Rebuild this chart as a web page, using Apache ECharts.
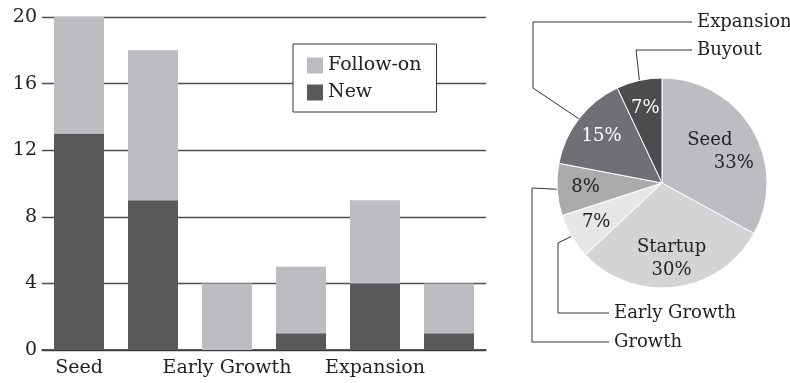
<!DOCTYPE html>
<html>
<head>
<meta charset="utf-8">
<script src="https://cdn.jsdelivr.net/npm/echarts@6/dist/echarts.min.js"></script>
<style>
  html, body { margin: 0; padding: 0; background: #fff; }
  #chart { width: 790px; height: 383px; }
</style>
</head>
<body>
<div id="chart"></div>
<script>
// Data
const stages = ['Seed', 'Startup', 'Early Growth', 'Growth', 'Expansion', 'Buyout'];
const newDeals = [13, 9, 0, 1, 4, 1];
const followOnDeals = [7, 9, 4, 4, 5, 3];
const pieShares = [33, 30, 7, 8, 15, 7];
const yTicks = [0, 4, 8, 12, 16, 20];

// Styling
const FONT = 'DejaVu Serif';
const TEXT = '#222';
const BAR_DARK = '#58595b';
const BAR_LIGHT = '#bcbdc0';
const PIE_COLORS = ['#bcbdc0', '#d4d4d6', '#e7e7e8', '#a9aaac', '#6f7073', '#4b4c4e'];
const PIE_TEXT = ['#222', '#222', '#222', '#222', '#fff', '#fff'];
const PIE_CENTER = [662, 183];
const PIE_R = 105;

// Where the outside pie labels sit and how their leader lines bend
const LEADERS = {
  'Expansion':    { at: [697, 22],  bends: [[533, 88], [533, 22], [692, 22]] },
  'Buyout':       { at: [697, 50],  bends: [[636, 50], [692, 50]] },
  'Early Growth': { at: [614, 313], bends: [[558, 243], [558, 313], [609, 313]] },
  'Growth':       { at: [614, 342], bends: [[532, 188], [532, 342], [609, 342]] }
};

// point on the slice edge at its mid angle (clockwise from 12 o'clock)
function sliceAnchor(i) {
  const total = pieShares.reduce((a, b) => a + b, 0);
  let before = 0;
  for (let k = 0; k < i; k++) before += pieShares[k];
  const a = (before + pieShares[i] / 2) / total * Math.PI * 2;
  const r = PIE_R * 0.97;
  return [PIE_CENTER[0] + Math.sin(a) * r, PIE_CENTER[1] - Math.cos(a) * r];
}

// inside label text: the two big slices also carry their name
function insideLabel(i) {
  if (i === 0) {
    return {
      formatter: '{l|{b}}\n{r|{c}%}',
      offset: [-6, 8],
      rich: { l: { padding: [0, 24, 0, 0] }, r: { padding: [0, 0, 0, 24] } }
    };
  }
  if (i === 1) return { formatter: '{b}\n{c}%' };
  return { formatter: '{c}%' };
}

const chart = echarts.init(document.getElementById('chart'));

const option = {
  animation: false,
  textStyle: { fontFamily: FONT, color: TEXT },

  grid: { left: 42, right: 304, top: 17, bottom: 33 },

  legend: {
    data: ['Follow-on', 'New'],
    orient: 'vertical',
    left: 293,
    top: 44,
    icon: 'rect',
    itemWidth: 16,
    itemHeight: 16,
    itemGap: 8,
    padding: [12, 15, 10, 14],
    borderColor: '#333',
    borderWidth: 1,
    backgroundColor: '#fff',
    textStyle: { fontFamily: FONT, fontSize: 19, color: TEXT }
  },

  xAxis: {
    type: 'category',
    data: stages,
    axisTick: { show: false },
    axisLine: { lineStyle: { color: '#333', width: 1.5 } },
    axisLabel: { interval: 1, fontSize: 19, color: TEXT, margin: 9, fontFamily: FONT }
  },

  yAxis: {
    type: 'value',
    min: yTicks[0],
    max: yTicks[yTicks.length - 1],
    interval: yTicks[1] - yTicks[0],
    axisLine: { show: false },
    axisTick: { show: false },
    axisLabel: { fontSize: 19, color: TEXT, margin: 5, fontFamily: FONT },
    splitLine: { lineStyle: { color: '#4f4f4f', width: 1.3 } }
  },

  series: [
    {
      name: 'New',
      type: 'bar',
      stack: 'deals',
      data: newDeals,
      barWidth: 50,
      itemStyle: { color: BAR_DARK },
      emphasis: { disabled: true }
    },
    {
      name: 'Follow-on',
      type: 'bar',
      stack: 'deals',
      data: followOnDeals,
      barWidth: 50,
      itemStyle: { color: BAR_LIGHT },
      emphasis: { disabled: true }
    },
    // coloured pie carrying the outside labels with bent leader lines
    {
      name: 'Share',
      type: 'pie',
      center: PIE_CENTER,
      radius: PIE_R,
      startAngle: 90,
      clockwise: true,
      avoidLabelOverlap: false,
      silent: true,
      data: stages.map((s, i) => ({
        name: s,
        value: pieShares[i],
        itemStyle: { color: PIE_COLORS[i] },
        label: { show: !!LEADERS[s] },
        labelLine: { show: !!LEADERS[s] }
      })),
      itemStyle: { borderColor: '#fff', borderWidth: 1 },
      label: {
        position: 'outside',
        formatter: '{b}',
        fontFamily: FONT,
        fontSize: 18,
        color: TEXT
      },
      labelLine: { lineStyle: { color: '#333', width: 1 } },
      labelLayout: function (p) {
        const name = stages[p.dataIndex];
        const l = LEADERS[name];
        if (!l) return {};
        return {
          x: l.at[0],
          y: l.at[1],
          align: 'left',
          verticalAlign: 'middle',
          labelLinePoints: [sliceAnchor(p.dataIndex)].concat(l.bends)
        };
      }
    },
    // transparent ring that only places the percentage labels inside the slices
    {
      name: 'ShareLabels',
      type: 'pie',
      center: PIE_CENTER,
      radius: [PIE_R * 0.4, PIE_R],
      startAngle: 90,
      clockwise: true,
      silent: true,
      avoidLabelOverlap: false,
      data: stages.map((s, i) => ({
        name: s,
        value: pieShares[i],
        itemStyle: { color: 'rgba(0,0,0,0)' },
        label: Object.assign({ color: PIE_TEXT[i] }, insideLabel(i))
      })),
      label: {
        show: true,
        position: 'inside',
        fontFamily: FONT,
        fontSize: 18,
        lineHeight: 23
      },
      labelLine: { show: false }
    }
  ]
};

chart.setOption(option);
</script>
</body>
</html>
